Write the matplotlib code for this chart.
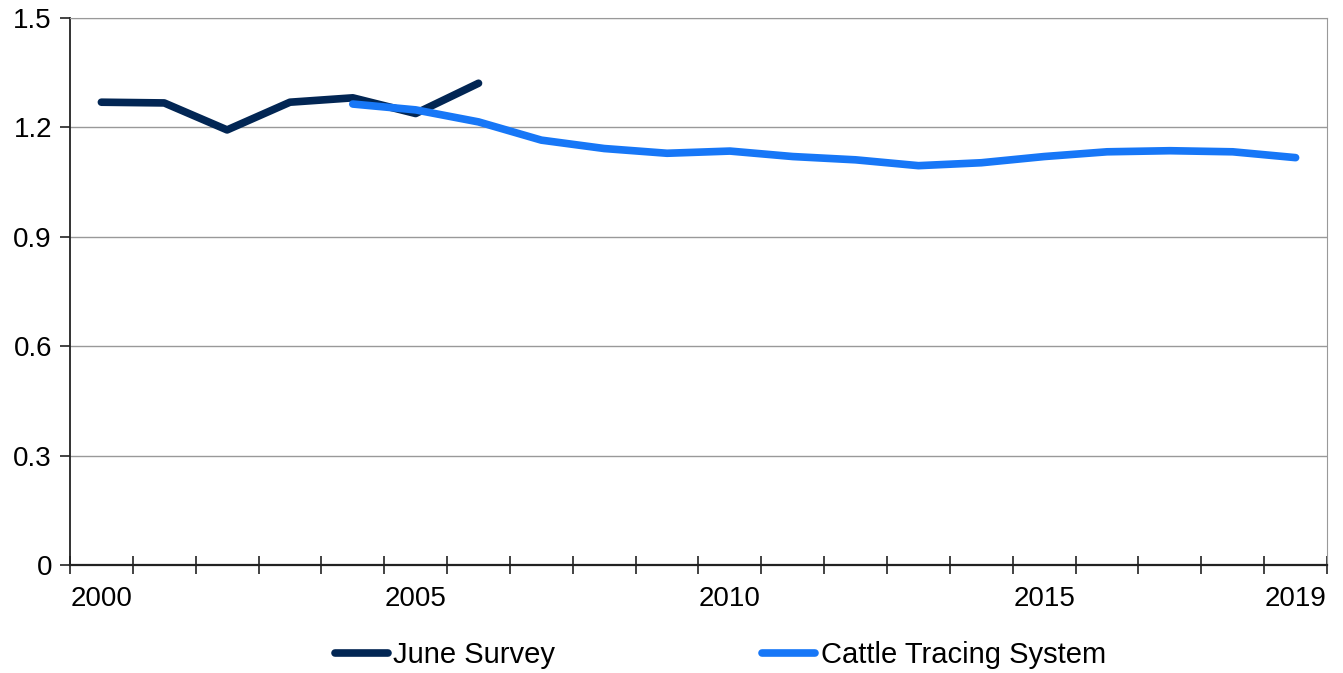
import numpy as np
import matplotlib.pyplot as plt

plt.rcParams['font.family'] = ['Liberation Sans', 'DejaVu Sans']

# datos
years = list(range(2000, 2020))
june_years = [2000, 2001, 2002, 2003, 2004, 2005, 2006]
june_survey = [1.269, 1.267, 1.193, 1.269, 1.281, 1.238, 1.321]
cts_years = list(range(2004, 2020))
cattle_tracing = [1.264, 1.248, 1.215, 1.165, 1.142, 1.129, 1.135, 1.120,
                  1.111, 1.095, 1.103, 1.120, 1.133, 1.136, 1.133, 1.117]
year_labels = [2000, 2005, 2010, 2015, 2019]
y_ticks = [0, 0.3, 0.6, 0.9, 1.2, 1.5]
y_tick_labels = ["0", "0.3", "0.6", "0.9", "1.2", "1.5"]

fig = plt.figure(figsize=(13.43, 6.73), dpi=100)
ax = fig.add_axes([0.0521, 0.1605, 0.9360, 0.8128])

jx = [years.index(y) for y in june_years]
cx = [years.index(y) for y in cts_years]

ax.plot(jx, june_survey, color='#022654', lw=5.5, solid_capstyle='round',
        solid_joinstyle='round', label='June Survey', zorder=3)
ax.plot(cx, cattle_tracing, color='#1777F7', lw=5.5, solid_capstyle='round',
        solid_joinstyle='round', label='Cattle Tracing System', zorder=4)

ax.set_xlim(-0.5, len(years) - 0.5)
ax.set_ylim(0, 1.5)

# ticks entre categorias
ax.set_xticks(np.arange(-0.5, len(years), 1.0))
ax.set_xticklabels([])
ax.set_xticks([years.index(y) for y in year_labels], minor=True)
ax.set_xticklabels([str(y) for y in year_labels], minor=True)
ax.tick_params(axis='x', which='major', direction='inout', length=13, width=1.2, color='#222222')
ax.tick_params(axis='x', which='minor', length=0, pad=15, labelsize=20)

ax.set_yticks(y_ticks)
ax.set_yticklabels(y_tick_labels)
ax.tick_params(axis='y', direction='out', length=7, width=1.2, color='#222222', labelsize=20, pad=6)

ax.yaxis.grid(True, color='#999999', lw=1.0)
ax.set_axisbelow(True)

ax.spines['left'].set_color('#222222')
ax.spines['left'].set_linewidth(1.3)
ax.spines['bottom'].set_color('#222222')
ax.spines['bottom'].set_linewidth(1.6)
ax.spines['right'].set_color('#999999')
ax.spines['top'].set_color('#999999')

leg = ax.legend(loc='center', bbox_to_anchor=(0.5175, -0.165), ncol=2, frameon=False,
                fontsize=21, handlelength=1.8, handletextpad=0.2, columnspacing=7.1)

fig.savefig('out.png', dpi=100)
